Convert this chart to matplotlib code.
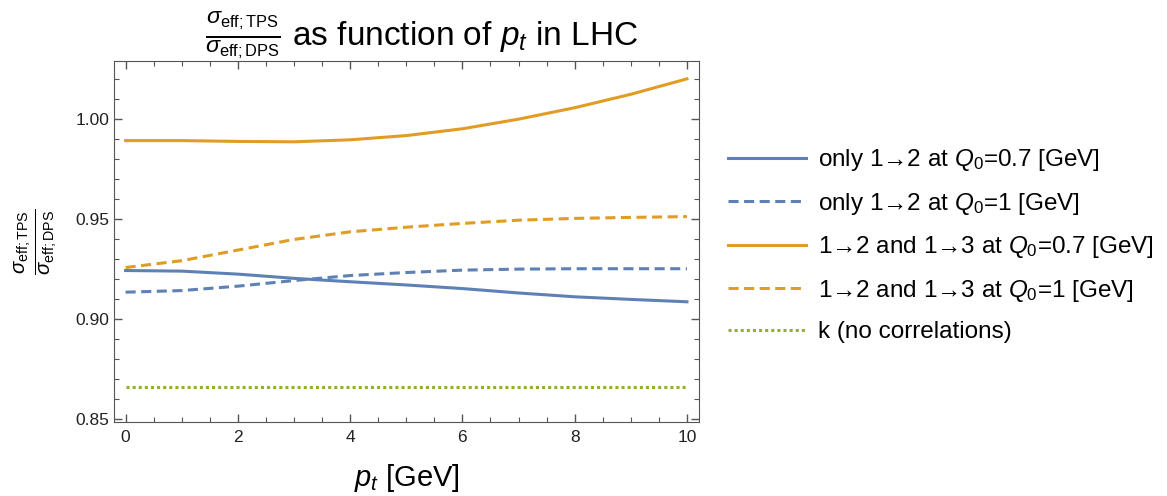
import matplotlib.pyplot as plt
from matplotlib.ticker import MultipleLocator

plt.rcParams['font.family'] = ['Liberation Sans', 'DejaVu Sans']
plt.rcParams['mathtext.fontset'] = 'custom'
plt.rcParams['mathtext.rm'] = 'Liberation Sans'
plt.rcParams['mathtext.it'] = 'Liberation Sans:italic'
plt.rcParams['mathtext.bf'] = 'Liberation Sans:bold'

pt = [0, 1, 2, 3, 4, 5, 6, 7, 8, 9, 10]
only12_q07 = [0.9243, 0.9240, 0.9225, 0.9204, 0.9187, 0.9171, 0.9153, 0.9131, 0.9112, 0.9099, 0.9087]
only12_q1 = [0.9135, 0.9143, 0.9165, 0.9193, 0.9218, 0.9233, 0.9245, 0.9250, 0.9252, 0.9252, 0.9252]
both_q07 = [0.9891, 0.9891, 0.9887, 0.9885, 0.9895, 0.9916, 0.9950, 0.9998, 1.0055, 1.0122, 1.0199]
both_q1 = [0.9258, 0.9292, 0.9345, 0.9398, 0.9436, 0.9459, 0.9478, 0.9494, 0.9503, 0.9508, 0.9512]
k_nocorr = [0.866] * 11

labels = [
    'only 1\u21922 at $Q_0$=0.7 [GeV]',
    'only 1\u21922 at $Q_0$=1 [GeV]',
    '1\u21922 and 1\u21923 at $Q_0$=0.7 [GeV]',
    '1\u21922 and 1\u21923 at $Q_0$=1 [GeV]',
    'k (no correlations)',
]

blue = '#5E81B5'
orange = '#E19C24'
green = '#8FB032'

fig = plt.figure(figsize=(11.67, 4.96), dpi=100)
ax = fig.add_axes([0.098, 0.149, 0.501, 0.728])

dash = (0, (3.3, 1.8))
ax.plot(pt, only12_q07, color=blue, lw=2.2, label=labels[0])
ax.plot(pt, only12_q1, color=blue, lw=2.2, ls=dash, label=labels[1])
ax.plot(pt, both_q07, color=orange, lw=2.2, label=labels[2])
ax.plot(pt, both_q1, color=orange, lw=2.2, ls=dash, label=labels[3])
ax.plot(pt, k_nocorr, color=green, lw=2.2, ls=(0, (1, 1)), label=labels[4])

ax.set_xlim(-0.2, 10.215)
ax.set_ylim(0.8487, 1.0288)
ax.xaxis.set_major_locator(MultipleLocator(2))
ax.xaxis.set_minor_locator(MultipleLocator(0.5))
ax.yaxis.set_major_locator(MultipleLocator(0.05))
ax.yaxis.set_minor_locator(MultipleLocator(0.01))
ax.yaxis.set_major_formatter(plt.FuncFormatter(lambda v, p: '%.2f' % v))

frame = '#555555'
for s in ax.spines.values():
    s.set_color(frame)
ax.tick_params(which='both', direction='in', top=True, right=True, colors=frame,
               labelcolor='#222222', labelsize=12.5)
ax.tick_params(which='major', length=6, width=1)
ax.tick_params(which='minor', length=3.5, width=0.8)
ax.tick_params(axis='x', pad=6)

ax.set_title(r'$\frac{\sigma_{\rm eff;TPS}}{\sigma_{\rm eff;DPS}}$ as function of $p_t$ in LHC',
             fontsize=24, pad=8, x=0.526)
ax.set_xlabel(r'$p_t$ [GeV]', fontsize=21, labelpad=12)
ax.set_ylabel(r'$\frac{\sigma_{\rm eff;TPS}}{\sigma_{\rm eff;DPS}}$', fontsize=21, labelpad=12)

fig.legend(loc='center left', bbox_to_anchor=(0.605, 0.506), frameon=False,
           fontsize=17.5, handlelength=3.2, labelspacing=0.72, handletextpad=0.5)

plt.savefig('out.png', dpi=100)
